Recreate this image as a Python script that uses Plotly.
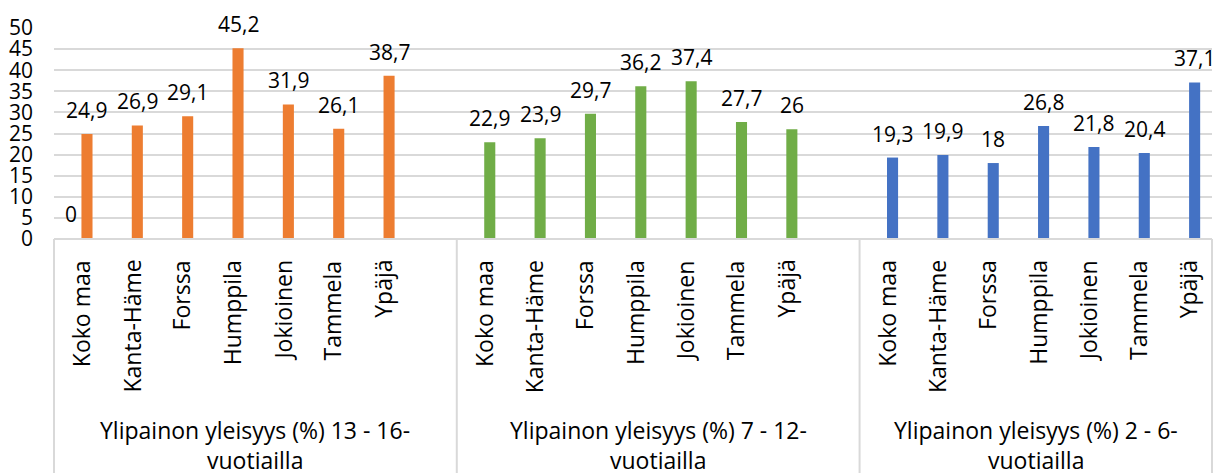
import plotly.graph_objects as go

categories = ["Koko maa", "Kanta-Häme", "Forssa", "Humppila", "Jokioinen", "Tammela", "Ypäjä"]
group_lines = [
    ["Ylipainon yleisyys (%) 13 - 16-", "vuotiailla"],
    ["Ylipainon yleisyys (%) 7 - 12-", "vuotiailla"],
    ["Ylipainon yleisyys (%) 2 - 6-", "vuotiailla"],
]
values_13_16 = [24.9, 26.9, 29.1, 45.2, 31.9, 26.1, 38.7]
values_7_12 = [22.9, 23.9, 29.7, 36.2, 37.4, 27.7, 26]
values_2_6 = [19.3, 19.9, 18, 26.8, 21.8, 20.4, 37.1]
zero_series = [0]  # second series, only Koko maa in first group
group_values = [values_13_16, values_7_12, values_2_6]
group_colors = ["#ED7D31", "#70AD47", "#4472C4"]
y_ticks = [0, 5, 10, 15, 20, 25, 30, 35, 40, 45, 50]

FONT = "Open Sans"
SIZE_NUM = 21
SIZE_CAT = 23
slots_per_group = 8
n_slots = 23
PLOT_H = 211

def fmt(v):
    return f"{v:g}".replace(".", ",")

fig = go.Figure()
annotations = []
BAR_W = 0.22
BAR_OFF = 0.045

for g, vals in enumerate(group_values):
    xs = [g * slots_per_group + i for i in range(len(vals))]
    fig.add_trace(go.Bar(
        x=xs, y=vals, width=BAR_W, offset=BAR_OFF,
        marker=dict(color=group_colors[g], line=dict(width=0)),
        hoverinfo="skip",
    ))
    for x, v in zip(xs, vals):
        annotations.append(dict(
            x=x + BAR_OFF + BAR_W / 2, y=v, xref="x", yref="y",
            text=fmt(v), showarrow=False, yanchor="middle", xanchor="center",
            yshift=24, font=dict(family=FONT, size=SIZE_NUM, color="#000000"),
        ))

# zero-valued series (left of Koko maa in first group)
zx = [0]
fig.add_trace(go.Bar(
    x=zx, y=zero_series, width=BAR_W, offset=-BAR_OFF - BAR_W,
    marker=dict(color=group_colors[0]), hoverinfo="skip",
))
for x, v in zip(zx, zero_series):
    annotations.append(dict(
        x=x - BAR_OFF - BAR_W / 2, y=v, xref="x", yref="y",
        text=fmt(v), showarrow=False, yanchor="middle", xanchor="center",
        yshift=25, font=dict(family=FONT, size=SIZE_NUM, color="#000000"),
    ))

# category labels (rotated)
for g in range(3):
    for i, c in enumerate(categories):
        annotations.append(dict(
            x=g * slots_per_group + i + 0.03, y=-19 / PLOT_H, xref="x", yref="paper",
            text=c, textangle=-90, showarrow=False,
            xanchor="center", yanchor="top",
            font=dict(family=FONT, size=SIZE_CAT, color="#000000"),
        ))

# group labels
bounds = [(-0.5, 7.5), (7.5, 15.5), (15.5, 22.5)]
for g, lines in enumerate(group_lines):
    cx = (bounds[g][0] + bounds[g][1]) / 2
    for k, line in enumerate(lines):
        annotations.append(dict(
            x=cx, y=-(191 + 30 * k) / PLOT_H, xref="x", yref="paper",
            text=line, showarrow=False, xanchor="center", yanchor="middle",
            font=dict(family=FONT, size=SIZE_CAT, color="#000000"),
        ))

shapes = []
for b in [0, 8, 16, 23]:
    shapes.append(dict(
        type="line", xref="paper", yref="paper",
        x0=b / n_slots, x1=b / n_slots, y0=0, y1=-1.2,
        line=dict(color="#D9D9D9", width=2),
    ))
shapes.append(dict(
    type="line", xref="paper", yref="paper", x0=0, x1=1, y0=0, y1=0,
    line=dict(color="#D9D9D9", width=2),
))

# page body has an 8px margin, so the figure is 8px smaller than the window
fig.update_layout(
    width=1213, height=465,
    margin=dict(l=46, r=9, t=20, b=234, autoexpand=False),
    paper_bgcolor="white", plot_bgcolor="white",
    showlegend=False, barmode="overlay",
    font=dict(family=FONT, size=SIZE_NUM, color="#000000"),
    annotations=annotations, shapes=shapes,
    xaxis=dict(range=[-0.5, n_slots - 0.5], showticklabels=False, showgrid=False,
               zeroline=False, showline=False, ticks="", automargin=False),
    yaxis=dict(range=[0, 50], tickvals=y_ticks, ticktext=[str(t) for t in y_ticks],
               showgrid=True, gridcolor="#D9D9D9", gridwidth=1.5, zeroline=False,
               showline=False, ticks="", ticklabelstandoff=20, automargin=False,
               tickfont=dict(family=FONT, size=SIZE_NUM, color="#000000")),
)
for tr in fig.data:
    tr.cliponaxis = False

fig.write_html("out.html")
